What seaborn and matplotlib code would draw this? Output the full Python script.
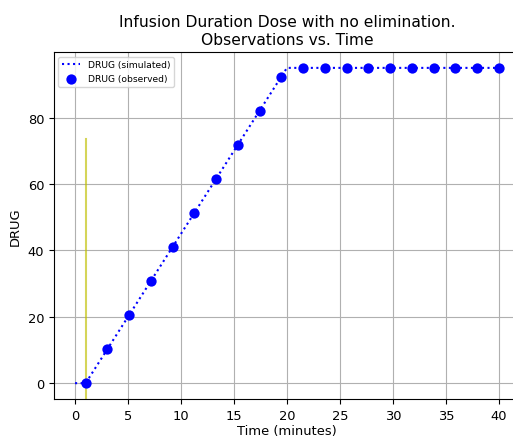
import numpy as np
import pandas as pd
import matplotlib
matplotlib.use("Agg")
import matplotlib.pyplot as plt
import seaborn as sns

# simulated curve (infusion 1 -> 20 min, rate 5/min, no elimination)
sim_time = [0.0, 1.0, 20.0, 40.0]
sim_drug = [0.0, 0.0, 95.0, 95.0]

# observations
obs_time = [1.0, 3.05, 5.11, 7.16, 9.21, 11.26, 13.32, 15.37, 17.42, 19.47,
            21.53, 23.58, 25.63, 27.68, 29.74, 31.79, 33.84, 35.89, 37.95, 40.0]
obs_drug = [0.0, 10.26, 20.53, 30.79, 41.05, 51.32, 61.58, 71.84, 82.11, 92.37,
            95.0, 95.0, 95.0, 95.0, 95.0, 95.0, 95.0, 95.0, 95.0, 95.0]

dose_time = 1.0

sim = pd.DataFrame({"t": sim_time, "DRUG": sim_drug})
obs = pd.DataFrame({"t": obs_time, "DRUG": obs_drug})

plt.rcParams['font.family'] = ['DejaVu Sans']
plt.rcParams['font.size'] = 9.4
fig, ax = plt.subplots(figsize=(5.13, 4.39), dpi=100)
fig.subplots_adjust(left=0.105, right=1.0136, top=0.879, bottom=0.089)

sns.lineplot(data=sim, x="t", y="DRUG", ax=ax, color="blue", linestyle=":",
             linewidth=1.5, label="DRUG (simulated)")
sns.scatterplot(data=obs, x="t", y="DRUG", ax=ax, color="blue", s=55,
                edgecolor="blue", linewidth=0, label="DRUG (observed)", zorder=3)
ax.axvline(dose_time, ymax=0.75, color="y", alpha=0.65, linewidth=1.5)

ax.grid(True, color="#b0b0b0", linewidth=0.8)
ax.set_axisbelow(True)
ax.set_xlabel("Time (minutes)", fontsize=9.4, labelpad=2)
ax.set_ylabel("DRUG", fontsize=9.4)
ax.tick_params(labelsize=9.4)
ax.set_title("Infusion Duration Dose with no elimination.\nObservations vs. Time",
             fontsize=11.2)
ax.legend(loc="upper left", fontsize=6.6)

fig.savefig("out.png", dpi=100)
